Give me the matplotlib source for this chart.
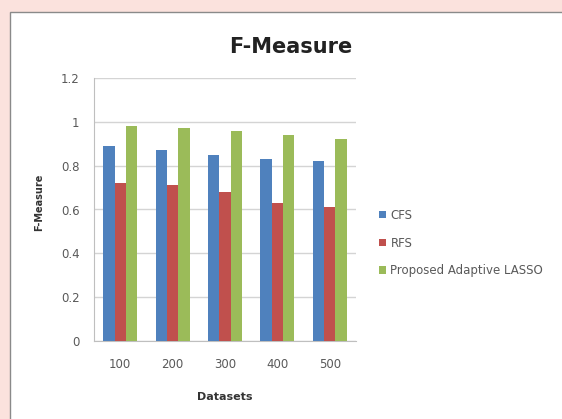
import numpy as np
import matplotlib.pyplot as plt
from matplotlib.patches import Rectangle

datasets = ['100', '200', '300', '400', '500']
cfs = [0.89, 0.87, 0.85, 0.83, 0.82]
rfs = [0.72, 0.71, 0.68, 0.63, 0.61]
lasso = [0.98, 0.97, 0.96, 0.94, 0.92]
series_names = ['CFS', 'RFS', 'Proposed Adaptive LASSO']
colors = ['#4F81BD', '#C0504D', '#9BBB59']

W, H = 562, 419
fig = plt.figure(figsize=(W / 100, H / 100), dpi=100)
fig.patch.set_facecolor('#fbe2dd')

# white chart frame (extends past bottom/right edge), drawn on a background axes
bg = fig.add_axes([0, 0, 1, 1], zorder=-10)
bg.set_axis_off()
bg.set_xlim(0, W)
bg.set_ylim(H, 0)
bg.add_patch(Rectangle((10, 12), W, H, facecolor='white',
                       edgecolor='#8a8a8a', linewidth=1.0))

ax = fig.add_axes([94 / W, 1 - 341 / H, 262 / W, 263 / H], zorder=1)
ax.set_facecolor('white')

x = np.arange(len(datasets))
bw = 0.217
for i, (vals, name) in enumerate(zip([cfs, rfs, lasso], series_names)):
    ax.bar(x + (i - 1) * bw, vals, bw, color=colors[i], label=name, zorder=3)

ax.set_xlim(-0.5, len(datasets) - 0.5)
ax.set_ylim(0, 1.2)
ax.set_yticks(np.arange(0, 1.21, 0.2))
ax.set_yticklabels(['0', '0.2', '0.4', '0.6', '0.8', '1', '1.2'])
ax.set_xticks(x)
ax.set_xticklabels(datasets)
ax.grid(axis='y', color='#d4d4d4', linewidth=1.0, zorder=0)
for s in ['top', 'right']:
    ax.spines[s].set_visible(False)
for s in ['left', 'bottom']:
    ax.spines[s].set_color('#bfbfbf')
ax.tick_params(axis='y', length=0, labelcolor='#595959', labelsize=8.5, pad=10.5)
ax.tick_params(axis='x', length=0, labelcolor='#595959', labelsize=8.5, pad=12)

fig.text(291 / W, 1 - 47 / H, 'F-Measure', ha='center', va='center',
         fontsize=15, fontweight='bold', color='#222222')
fig.text(39 / W, 1 - 202 / H, 'F-Measure', ha='center', va='center',
         rotation=90, fontsize=7, fontweight='bold', color='#333333')
fig.text(225 / W, 1 - 397 / H, 'Datasets', ha='center', va='center',
         fontsize=8, fontweight='bold', color='#333333')

ax.legend(loc='center left', bbox_to_anchor=(368 / W, 1 - 243 / H),
          bbox_transform=fig.transFigure, frameon=False, fontsize=8.5,
          handlelength=0.6, handleheight=0.6, handletextpad=0.4,
          labelspacing=1.25, labelcolor='#595959')

fig.savefig('out.png', dpi=100, facecolor=fig.get_facecolor())
